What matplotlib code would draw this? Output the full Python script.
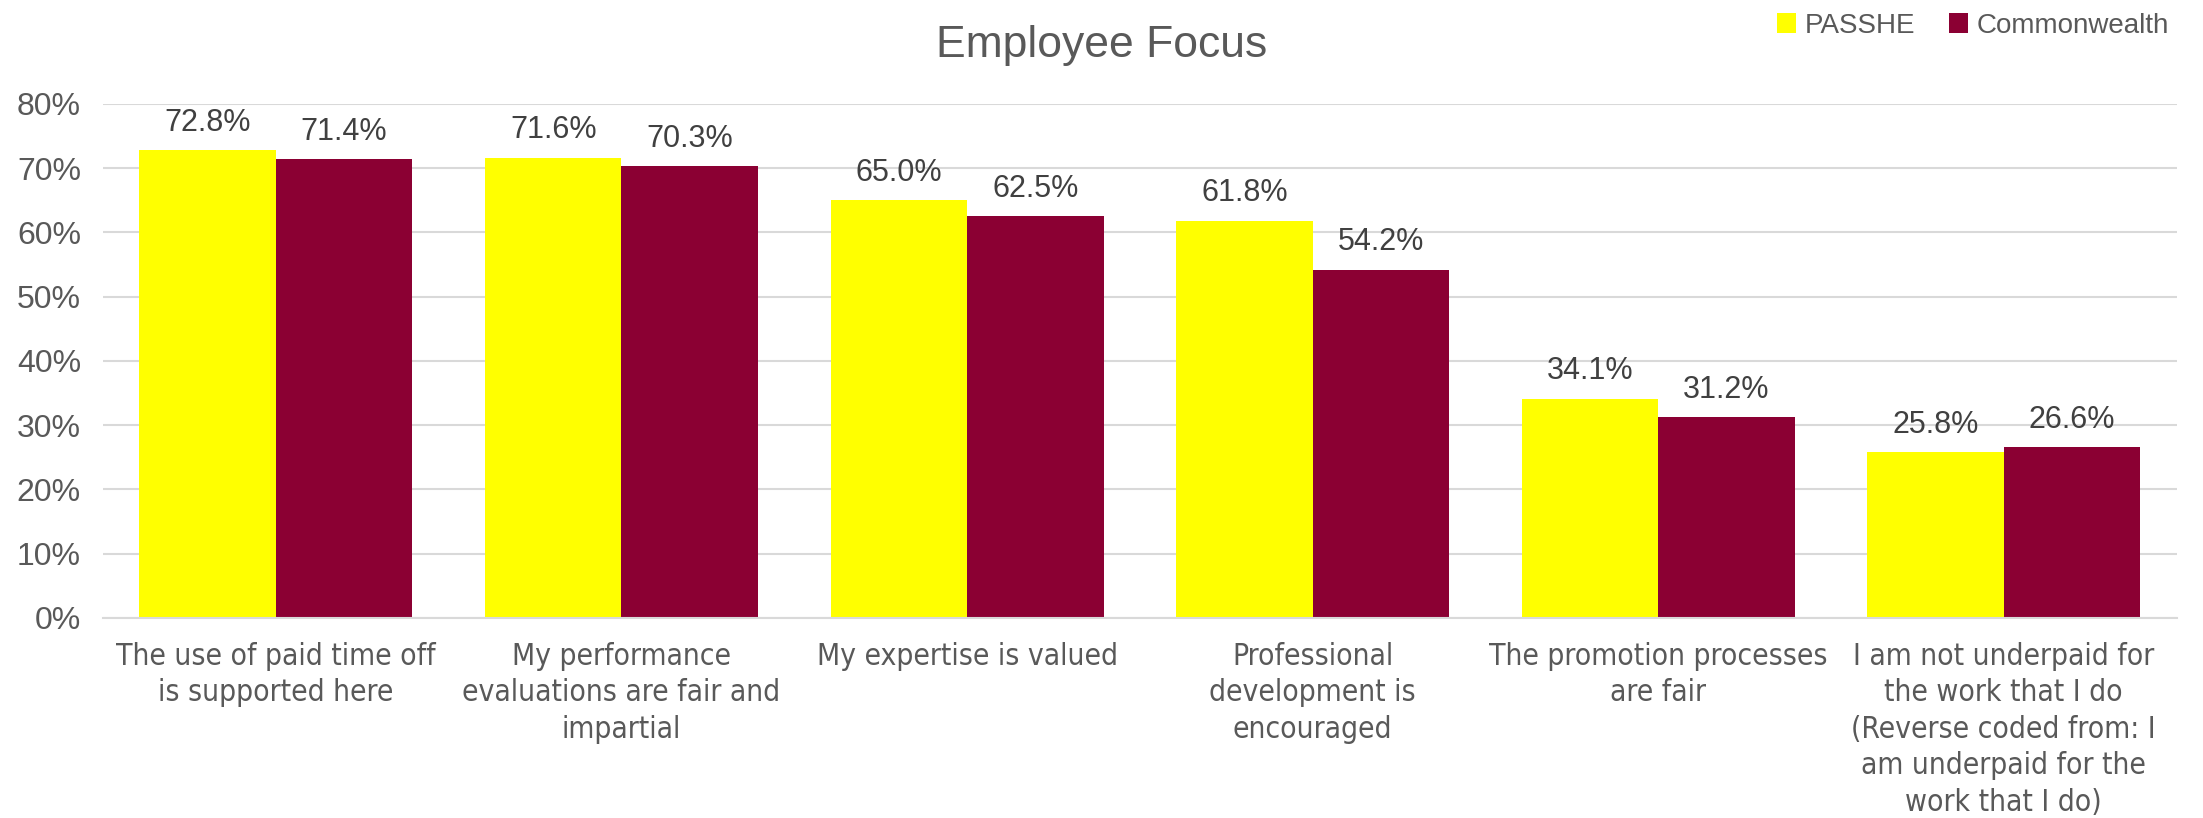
import numpy as np
import matplotlib
matplotlib.use("Agg")
import matplotlib.pyplot as plt
from matplotlib.ticker import PercentFormatter, MultipleLocator

plt.rcParams['font.family'] = ['DejaVu Sans']

categories = [
    "The use of paid time off\nis supported here",
    "My performance\nevaluations are fair and\nimpartial",
    "My expertise is valued",
    "Professional\ndevelopment is\nencouraged",
    "The promotion processes\nare fair",
    "I am not underpaid for\nthe work that I do\n(Reverse coded from: I\nam underpaid for the\nwork that I do)",
]
passhe = [72.8, 71.6, 65.0, 61.8, 34.1, 25.8]
commonwealth = [71.4, 70.3, 62.5, 54.2, 31.2, 26.6]

text_color = "#595959"
yellow = "#FFFF00"
maroon = "#8B0033"
label_font = ['Liberation Sans', 'DejaVu Sans']

fig = plt.figure(figsize=(22.03, 8.18), dpi=100)
ax = fig.add_axes([0.0468, 0.2445, 0.9412, 0.6285])

x = np.arange(len(categories))
w = 0.395
b1 = ax.bar(x - w / 2, passhe, w, color=yellow, label="PASSHE", zorder=2)
b2 = ax.bar(x + w / 2, commonwealth, w, color=maroon, label="Commonwealth", zorder=2)

for bars in (b1, b2):
    ax.bar_label(bars, labels=[f"{v:.1f}%" for v in bars.datavalues],
                 padding=9, fontsize=22, color="#404040", family=label_font)

ax.set_xlim(-0.5, len(categories) - 0.5)
ax.set_ylim(0, 80)
ax.yaxis.set_major_locator(MultipleLocator(10))
ax.yaxis.set_major_formatter(PercentFormatter(decimals=0))
ax.grid(axis="y", color="#D9D9D9", linewidth=1.5, zorder=0)
ax.set_axisbelow(True)
for s in ("top", "right", "left"):
    ax.spines[s].set_visible(False)
ax.spines["bottom"].set_color("#D9D9D9")
ax.spines["bottom"].set_linewidth(1.5)

ax.set_xticks(x)
ax.set_xticklabels(categories, fontsize=21.5, color=text_color, linespacing=1.33,
                   fontstretch="condensed")
ax.tick_params(axis="x", length=0, pad=17)
ax.tick_params(axis="y", length=0, pad=16, labelsize=23, labelcolor=text_color)
for lab in ax.get_yticklabels():
    lab.set_family(label_font)

fig.suptitle("Employee Focus", x=0.5, y=0.97, fontsize=32, color=text_color,
             family=label_font)

fig.legend(loc="upper right", bbox_to_anchor=(0.992, 1.005), ncol=2, frameon=False,
           handlelength=0.7, handleheight=0.7, handletextpad=0.3,
           columnspacing=1.2, labelcolor=text_color, borderaxespad=0.2,
           prop={"family": label_font, "size": 20})

fig.savefig("out.png", dpi=100)
